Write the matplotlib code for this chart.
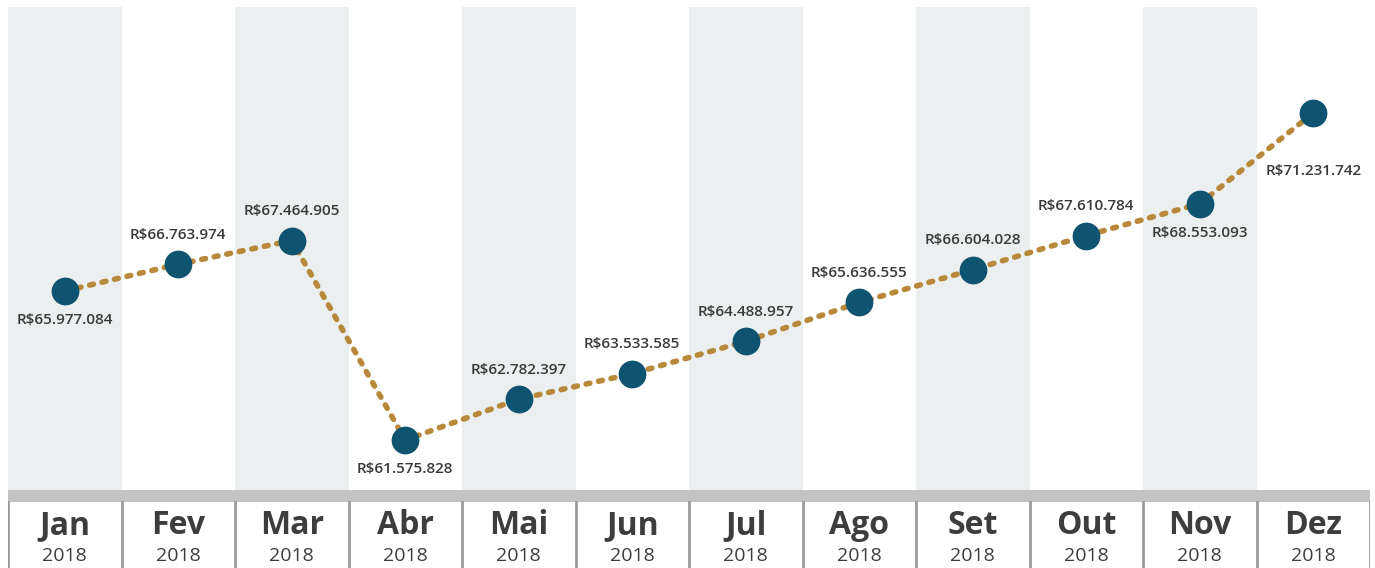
import numpy as np
import matplotlib.pyplot as plt

meses = ['Jan', 'Fev', 'Mar', 'Abr', 'Mai', 'Jun', 'Jul', 'Ago', 'Set', 'Out', 'Nov', 'Dez']
ano = '2018'
valores = [65977084, 66763974, 67464905, 61575828, 62782397, 63533585,
           64488957, 65636555, 66604028, 67610784, 68553093, 71231742]
rotulos = ['R$65.977.084', 'R$66.763.974', 'R$67.464.905', 'R$61.575.828',
           'R$62.782.397', 'R$63.533.585', 'R$64.488.957', 'R$65.636.555',
           'R$66.604.028', 'R$67.610.784', 'R$68.553.093', 'R$71.231.742']
# posicao do rotulo: acima ou abaixo do ponto
lado = ['b', 'a', 'a', 'b', 'a', 'a', 'a', 'a', 'a', 'a', 'b', 'b']

W, H = 1375, 568
fig = plt.figure(figsize=(W/100, H/100), dpi=100)
plt.rcParams['font.family'] = ['Open Sans', 'DejaVu Sans']

x0, x1 = 8, 1370
ax = fig.add_axes([x0/W, (H-490)/H, (x1-x0)/W, (490-7)/H])
n = len(meses)
x = np.arange(n)
for i in range(0, n, 2):
    ax.axvspan(i-0.5, i+0.5, color='#ebeff0', lw=0, zorder=0)

ax.plot(x, valores, color='#b8893a', lw=4, ls=(0, (0.7, 1.6)),
        dash_capstyle='round', zorder=2)
ax.plot(x, valores, 'o', color='#0e5470', ms=20, mec='none', zorder=3)

for i in range(n):
    if lado[i] == 'a':
        ax.annotate(rotulos[i], (x[i], valores[i]), xytext=(0, 16),
                    textcoords='offset points', ha='center', va='bottom',
                    fontsize=11, color='#3a3a3a', fontweight='semibold')
    else:
        dy = -37 if i == n-1 else -16
        ax.annotate(rotulos[i], (x[i], valores[i]), xytext=(0, dy),
                    textcoords='offset points', ha='center', va='top',
                    fontsize=11, color='#3a3a3a', fontweight='semibold')

ax.set_xlim(-0.5, n-0.5)
ax.set_ylim(60.10e6, 74.36e6)
ax.axis('off')

# faixa inferior com os meses
bx = fig.add_axes([x0/W, 0, (x1-x0)/W, 78/H])
bx.set_xlim(-0.5, n-0.5)
bx.set_ylim(78, 0)
bx.axhspan(0, 12, color='#c3c3c3', lw=0)
for i in range(n+1):
    bx.plot([i-0.5, i-0.5], [12, 78], color='#9a9a9a', lw=2)
for i in range(n):
    bx.text(x[i], 36, meses[i], ha='center', va='center', fontsize=23,
            fontweight='bold', color='#3d3d3d')
    bx.text(x[i], 66, ano, ha='center', va='center', fontsize=14,
            color='#3d3d3d')
bx.axis('off')

fig.savefig('out.png', dpi=100)
